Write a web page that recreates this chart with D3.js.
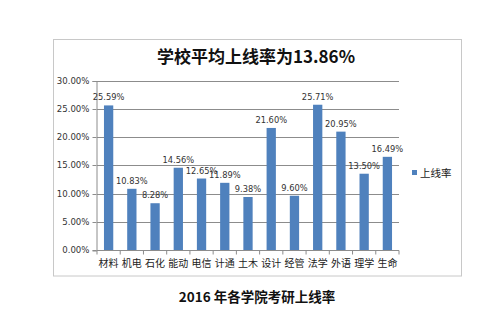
<!DOCTYPE html>
<html><head><meta charset="utf-8">
<script src="https://cdn.jsdelivr.net/npm/d3@7"></script>
<style>body{margin:0;background:#fff}svg{display:block}</style>
</head><body>
<svg id="c" width="500" height="333"></svg>
<script>
const categories = ["材料","机电","石化","能动","电信","计通","土木","设计","经管","法学","外语","理学","生命"];
const values = [25.59,10.83,8.28,14.56,12.65,11.89,9.38,21.60,9.60,25.71,20.95,13.50,16.49];
const yTicks = [0,5,10,15,20,25,30];
const seriesName = "上线率";
const titleText = "学校平均上线率为13.86%";
const captionText = "2016 年各学院考研上线率";

const svg = d3.select("#c");
const cjk = "'Noto Sans CJK SC','Noto Sans',sans-serif";
const num = "'DejaVu Sans',Verdana,sans-serif";

// chart frame
svg.append("rect").attr("x",53.5).attr("y",39.5).attr("width",408).attr("height",236.5)
  .attr("fill","#fff").attr("stroke","#c8c8c8").attr("stroke-width",1);

const x = d3.scaleBand().domain(categories).range([97,399]).paddingInner(0.6).paddingOuter(0.3);
const xb = d3.scaleBand().domain(categories).range([97,399]);
const y = d3.scaleLinear().domain([0,30]).range([250,80.5]);

// gridlines
svg.append("g").selectAll("line").data(yTicks.slice(1)).join("line")
  .attr("x1",97).attr("x2",399).attr("y1",d=>Math.round(y(d))+0.5).attr("y2",d=>Math.round(y(d))+0.5)
  .attr("stroke","#8c8c8c").attr("stroke-width",1);

// y axis
const ya = svg.append("g").attr("transform","translate(96.5,0.5)")
  .call(d3.axisLeft(y).tickValues(yTicks).tickSize(4).tickPadding(3).tickFormat(d=>d.toFixed(2)+"%"));
ya.select(".domain").attr("stroke","#8c8c8c");
ya.selectAll(".tick line").attr("stroke","#8c8c8c");
ya.selectAll("text").attr("font-family",num).attr("font-size","8.6px").attr("fill","#333");
ya.selectAll(".tick").attr("transform",d=>`translate(0,${Math.round(y(d))})`);

// bars
svg.append("g").selectAll("rect").data(values).join("rect")
  .attr("x",(d,i)=>x(categories[i])).attr("width",x.bandwidth())
  .attr("y",d=>y(d)).attr("height",d=>y(0)-y(d)).attr("fill","#4f81bd");

// x axis
const xa = svg.append("g").attr("transform","translate(0,250.5)");
xa.append("line").attr("x1",97).attr("x2",399).attr("stroke","#8c8c8c");
xa.selectAll("line.t").data(d3.range(categories.length+1)).join("line").attr("class","t")
  .attr("x1",i=>97+i*xb.step()).attr("x2",i=>97+i*xb.step()).attr("y1",0).attr("y2",4)
  .attr("stroke","#8c8c8c");
xa.selectAll("text").data(categories).join("text")
  .attr("x",d=>xb(d)+xb.bandwidth()/2).attr("y",16).attr("text-anchor","middle")
  .attr("font-family",cjk).attr("font-size","10px").attr("fill","#222").text(d=>d);

// data labels
svg.append("g").selectAll("text").data(values).join("text")
  .attr("x",(d,i)=>x(categories[i])+x.bandwidth()/2).attr("y",d=>y(d)-5)
  .attr("text-anchor","middle").attr("font-family",num).attr("font-size","8.3px").attr("fill","#333")
  .text(d=>d.toFixed(2)+"%");

// legend
svg.append("rect").attr("x",412).attr("y",170).attr("width",5).attr("height",5).attr("fill","#4f81bd");
svg.append("text").attr("x",420).attr("y",176.5).attr("font-family",cjk).attr("font-size","10.5px")
  .attr("fill","#222").text(seriesName);

// title
svg.append("text").attr("x",256).attr("y",63).attr("text-anchor","middle")
  .attr("font-family",cjk).attr("font-weight","bold").attr("font-size","17px").attr("fill","#111").text(titleText);

// caption
svg.append("text").attr("x",257).attr("y",302).attr("text-anchor","middle")
  .attr("font-family",cjk).attr("font-weight","bold").attr("font-size","13.5px").attr("fill","#111").text(captionText);
</script>
</body></html>
